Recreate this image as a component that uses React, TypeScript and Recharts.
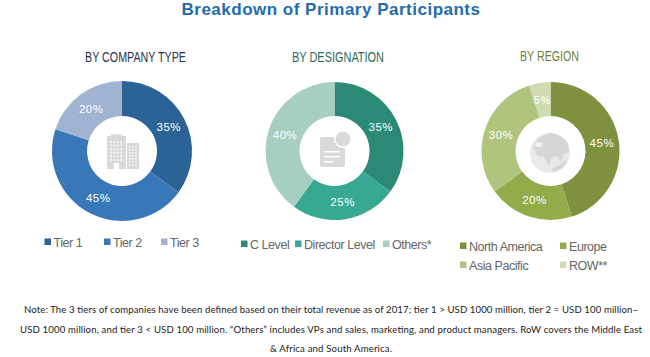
import { Cell, Customized, Pie, PieChart } from "recharts";

const WIDTH = 650;
const HEIGHT = 357;

const companyNames = ["Tier 1", "Tier 2", "Tier 3"];
const companyValues = [35, 45, 20];
const companyColors = ["#2c6397", "#3978b8", "#a0b4d2"];

const designationNames = ["C Level", "Director Level", "Others*"];
const designationValues = [35, 25, 40];
const designationColors = ["#2b8a76", "#37a892", "#a6cfc1"];

const regionNames = ["North America", "Europe", "Asia Pacific", "ROW**"];
const regionValues = [45, 20, 30, 5];
const regionColors = ["#7d913e", "#93ac4a", "#afc57e", "#cfdcb2"];

const noteLines = [
  "Note: The 3 tiers of companies have been defined based on their total revenue as of 2017; tier 1 > USD 1000 million, tier 2 = USD 100 million–",
  "USD 1000 million, and tier 3 < USD 100 million. “Others” includes VPs and sales, marketing, and product managers. RoW covers the Middle East",
  "& Africa and South America.",
];
const noteWidths = [614, 622, 122];

const toRows = (names: string[], values: number[]) =>
  names.map((name, i) => ({ name, value: values[i] }));

const RAD = Math.PI / 180;

function PercentLabel(props: any) {
  const { cx, cy, midAngle, innerRadius, outerRadius, value } = props;
  const r = (innerRadius + outerRadius) / 2;
  const x = cx + r * Math.cos(-midAngle * RAD);
  const y = cy + r * Math.sin(-midAngle * RAD);
  return (
    <text
      x={x}
      y={y}
      dy={4}
      textAnchor="middle"
      fill="#fff"
      fontFamily="Liberation Sans"
      fontSize={11.5}
      letterSpacing={0.5}
    >
      {value}%
    </text>
  );
}

function Donut({ cx, rows, colors, r }: { cx: number; rows: any[]; colors: string[]; r: number }) {
  return (
    <Pie
      data={rows}
      dataKey="value"
      nameKey="name"
      cx={cx}
      cy={151}
      innerRadius={35}
      outerRadius={r}
      startAngle={90}
      endAngle={-270}
      stroke="none"
      label={PercentLabel}
      labelLine={false}
      isAnimationActive={false}
    >
      {rows.map((_, i) => (
        <Cell key={i} fill={colors[i]} />
      ))}
    </Pie>
  );
}

function LegendItem({ x, y, color, name }: { x: number; y: number; color: string; name: string }) {
  return (
    <g>
      <rect x={x} y={y - 3.5} width={6.5} height={6.5} fill={color} />
      <text x={x + 9} y={y + 5} fontFamily="Liberation Sans" fontSize={12.5} letterSpacing={-0.45} fill="#666">
        {name}
      </text>
    </g>
  );
}

function Subtitle({ x, y, width, color, text }: { x: number; y: number; width: number; color: string; text: string }) {
  return (
    <text
      x={x}
      y={y}
      textAnchor="middle"
      fontFamily="Liberation Sans"
      fontSize={14}
      fill={color}
      textLength={width}
      lengthAdjust="spacingAndGlyphs"
    >
      {text}
    </text>
  );
}

function Building() {
  const big: JSX.Element[] = [];
  for (let row = 0; row < 6; row++) {
    for (let col = 0; col < 4; col++) {
      big.push(<rect key={`b${row}${col}`} x={110 + col * 3.4} y={141 + row * 3.6} width={2} height={2} fill="#f4f4f4" />);
    }
  }
  const small: JSX.Element[] = [];
  for (let row = 0; row < 7; row++) {
    for (let col = 0; col < 3; col++) {
      small.push(<rect key={`s${row}${col}`} x={129 + col * 3} y={146 + row * 3} width={1.8} height={1.6} fill="#f4f4f4" />);
    }
  }
  return (
    <g>
      <rect x={107} y={136} width={19} height={33} fill="#d9d9d9" />
      <rect x={111} y={134.5} width={11} height={2} fill="#d9d9d9" />
      <rect x={127} y={143} width={12} height={26} fill="#d9d9d9" />
      {big}
      {small}
      <rect x={114} y={163} width={5} height={6} fill="#fff" />
    </g>
  );
}

function Doc() {
  return (
    <g>
      <path d="M322 137 H340 L345 142 V165 Q345 167 343 167 H322 Q320 167 320 165 V139 Q320 137 322 137 Z" fill="#d9d9d9" />
      <circle cx={343} cy={139} r={9} fill="#fff" />
      <circle cx={343} cy={139} r={7.5} fill="#d9d9d9" />
      <rect x={324} y={151} width={16} height={1.5} fill="#fff" />
      <rect x={324} y={156} width={16} height={1.5} fill="#fff" />
      <rect x={324} y={161} width={10} height={1.5} fill="#fff" />
    </g>
  );
}

function Globe() {
  return (
    <g>
      <circle cx={550} cy={153} r={20} fill="#e9e9e9" />
      <path
        d="M533 146 Q538 136 550 133 Q562 134 568 144 L569 152 L564 154 L561 162 L557 156 L552 157 L549 166 L544 157 L538 156 L535 151 Z"
        fill="#d6d6d6"
      />
      <path d="M552 168 Q560 166 565 160 L567 162 Q562 170 553 172 Z" fill="#d6d6d6" />
      <path d="M536 142 L543 143 L541 147 L535 147 Z" fill="#f1f1f1" />
    </g>
  );
}

export default function App() {
  return (
    <div style={{ position: "absolute", left: 0, top: 0, width: WIDTH, height: HEIGHT, background: "#fff" }}>
      <PieChart width={WIDTH} height={HEIGHT} margin={{ top: 0, right: 0, bottom: 0, left: 0 }}>
        {Donut({ cx: 122, rows: toRows(companyNames, companyValues), colors: companyColors, r: 70 })}
        {Donut({ cx: 334.5, rows: toRows(designationNames, designationValues), colors: designationColors, r: 69 })}
        {Donut({ cx: 550.5, rows: toRows(regionNames, regionValues), colors: regionColors, r: 69 })}
        <Customized
          component={() => (
            <g>
              <text x={331} y={15} textAnchor="middle" fontFamily="Liberation Sans" fontWeight="bold" fontSize={17} letterSpacing={0.5} fill="#1f6cb0">
                Breakdown of Primary Participants
              </text>
              <Subtitle x={135.5} y={62} width={101} color="#1f3450" text="BY COMPANY TYPE" />
              <Subtitle x={338} y={62} width={92} color="#2a6b5c" text="BY DESIGNATION" />
              <Subtitle x={549.5} y={61} width={59} color="#6f7f38" text="BY REGION" />

              <Building />
              <Doc />
              <Globe />

              <LegendItem x={44.5} y={242} color={companyColors[0]} name={companyNames[0]} />
              <LegendItem x={104} y={242} color={companyColors[1]} name={companyNames[1]} />
              <LegendItem x={161} y={242} color={companyColors[2]} name={companyNames[2]} />

              <LegendItem x={241} y={244} color={designationColors[0]} name={designationNames[0]} />
              <LegendItem x={295} y={244} color={designationColors[1]} name={designationNames[1]} />
              <LegendItem x={383} y={244} color={designationColors[2]} name={designationNames[2]} />

              <LegendItem x={460} y={246} color={regionColors[0]} name={regionNames[0]} />
              <LegendItem x={560} y={246} color={regionColors[1]} name={regionNames[1]} />
              <LegendItem x={460} y={265} color={regionColors[2]} name={regionNames[2]} />
              <LegendItem x={560} y={265} color={regionColors[3]} name={regionNames[3]} />

              {noteLines.map((line, i) => (
                <text
                  key={i}
                  x={331}
                  y={313 + i * 19.5}
                  textAnchor="middle"
                  fontFamily="Lato"
                  fontSize={9.6}
                  fill="#222"
                  textLength={noteWidths[i]}
                  lengthAdjust="spacing"
                >
                  {line}
                </text>
              ))}
            </g>
          )}
        />
      </PieChart>
    </div>
  );
}
